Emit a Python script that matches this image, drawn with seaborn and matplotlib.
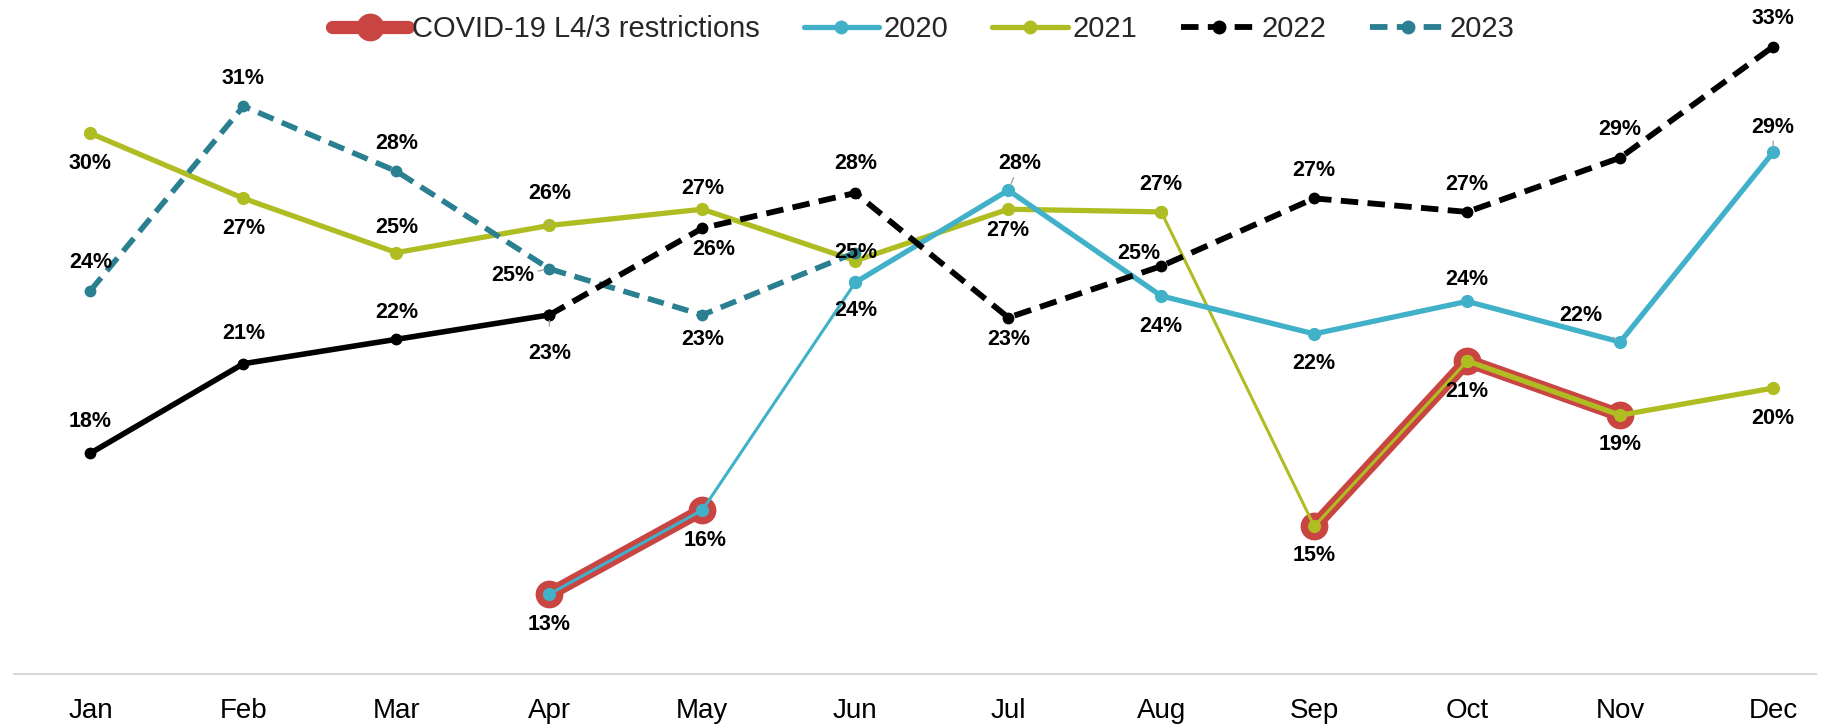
import numpy as np
import pandas as pd
import matplotlib
matplotlib.use("Agg")
import matplotlib.pyplot as plt
import seaborn as sns
from matplotlib.lines import Line2D

months = ["Jan", "Feb", "Mar", "Apr", "May", "Jun", "Jul", "Aug", "Sep", "Oct", "Nov", "Dec"]
nan = np.nan
s2020 = [nan, nan, nan, 12.8, 15.9, 24.3, 27.7, 23.8, 22.4, 23.6, 22.1, 29.1]
s2021 = [29.8, 27.4, 25.4, 26.4, 27.0, 25.1, 27.0, 26.9, 15.3, 21.4, 19.4, 20.4]
s2022 = [18.0, 21.3, 22.2, 23.1, 26.3, 27.6, 23.0, 24.9, 27.4, 26.9, 28.9, 33.0]
s2023 = [24.0, 30.8, 28.4, 24.8, 23.1, 25.4, nan, nan, nan, nan, nan, nan]
covid = [nan, nan, nan, 12.8, 15.9, nan, nan, nan, 15.3, 21.4, 19.4, nan]
covid_segment = [0, 0, 0, 1, 1, 0, 0, 0, 2, 2, 2, 0]
labels_2020 = ["", "", "", "13%", "16%", "24%", "28%", "24%", "22%", "24%", "22%", "29%"]
labels_2021 = ["30%", "27%", "25%", "26%", "27%", "", "27%", "27%", "15%", "21%", "19%", "20%"]
labels_2022 = ["18%", "21%", "22%", "23%", "26%", "28%", "23%", "25%", "27%", "27%", "29%", "33%"]
labels_2023 = ["24%", "31%", "28%", "25%", "23%", "25%", "", "", "", "", "", ""]

# label placement (offset in points): styling, kept separate from data
pos_2020 = [None, None, None, (0, -22), (2, -22), (0, -20), (8, 19), (0, -22), (0, -21), (0, 16), (-28, 19), (0, 18)]
pos_2021 = [(0, -22), (0, -22), (0, 18), (0, 23), (0, 15), None, (0, -15), (0, 20), (0, -21), (0, -22), (0, -21), (0, -22)]
pos_2022 = [(0, 23), (0, 22), (0, 19), (0, -28), (8, -15), (0, 21), (0, -16), (-16, 9), (0, 20), (0, 20), (0, 20), (0, 20)]
pos_2023 = [(0, 20), (0, 20), (0, 20), (-26, -5), (0, -18), (0, 0.1)]
leaders = {("2020", 6), ("2020", 10), ("2020", 11), ("2021", 3), ("2021", 7), ("2022", 3), ("2023", 3)}

c_covid = "#C94542"
c_2020 = "#41B0C9"
c_2021 = "#AFBD22"
c_2022 = "#000000"
c_2023 = "#2A8090"

sns.set_theme(style="white")
plt.rcParams["font.family"] = ["Liberation Sans", "DejaVu Sans"]

x = np.arange(len(months))
df = pd.DataFrame({"x": x, "covid": covid, "seg": covid_segment,
                   "y2020": s2020, "y2021": s2021, "y2022": s2022, "y2023": s2023})

fig = plt.figure(figsize=(18.32, 7.24), dpi=100)
ax = fig.add_axes([14 / 1832, 50 / 724, (1816 - 14) / 1832, 674 / 724])

dash = (0, (3, 1.6))
THICK = 3.8
THIN = 2.2


def piece(col, lo, hi, color, lw, ms, z, ls="-"):
    d = df[(df["x"] >= lo) & (df["x"] <= hi)].dropna(subset=[col])
    sns.lineplot(data=d, x="x", y=col, ax=ax, color=color, linewidth=lw,
                 marker="o", markersize=ms, markeredgewidth=0, zorder=z,
                 linestyle=ls, legend=False)


# COVID highlight (segments)
dcv = df[df["seg"] > 0]
sns.lineplot(data=dcv, x="x", y="covid", units="seg", estimator=None, ax=ax,
             color=c_covid, linewidth=9.5, marker="o", markersize=20, markeredgewidth=0,
             zorder=2, legend=False)
# 2020
piece("y2020", 3, 5, c_2020, THIN, 9.5, 4)
piece("y2020", 5, 11, c_2020, THICK, 9.5, 4)
# 2021
piece("y2021", 0, 7, c_2021, THICK, 9.5, 3)
piece("y2021", 7, 9, c_2021, THIN, 9.5, 3)
piece("y2021", 9, 11, c_2021, THICK, 9.5, 3)
# 2022
piece("y2022", 0, 3, c_2022, 4.0, 8.5, 5)
piece("y2022", 3, 11, c_2022, 4.2, 8.5, 5, dash)
# 2023
piece("y2023", 0, 5, c_2023, 4.0, 8.5, 4, dash)


def put_labels(name, vals, labs, poss):
    for i, (v, lab) in enumerate(zip(vals, labs)):
        if i >= len(poss) or poss[i] is None or not lab or np.isnan(v):
            continue
        dx, dy = poss[i]
        kw = {}
        if (name, i) in leaders:
            kw["arrowprops"] = dict(arrowstyle="-", color="#A6A6A6", lw=1.0,
                                    shrinkA=10, shrinkB=4)
        ax.annotate(lab, (i, v), xytext=(dx, dy), textcoords="offset points",
                    ha="center", va="center", fontsize=15.5, fontweight="bold",
                    color="#000000", zorder=10, **kw)


put_labels("2020", s2020, labels_2020, pos_2020)
put_labels("2021", s2021, labels_2021, pos_2021)
put_labels("2022", s2022, labels_2022, pos_2022)
put_labels("2023", s2023, labels_2023, pos_2023)

ax.set_xlim(-0.5, 11.28)
ax.set_ylim(9.85, 34.72)
ax.set_xticks(x)
ax.set_xticklabels(months, fontsize=20, color="#000000")
ax.set_yticks([])
ax.set_xlabel("")
ax.set_ylabel("")
ax.tick_params(axis="x", length=0, pad=17)
for s in ["top", "left", "right"]:
    ax.spines[s].set_visible(False)
ax.spines["bottom"].set_color("#D9D9D9")
ax.spines["bottom"].set_linewidth(1.5)

handles = [
    Line2D([], [], color=c_covid, lw=9.5, marker="o", markersize=20, markeredgewidth=0,
           solid_capstyle="round"),
    Line2D([], [], color=c_2020, lw=THICK, marker="o", markersize=10, markeredgewidth=0,
           solid_capstyle="round"),
    Line2D([], [], color=c_2021, lw=THICK, marker="o", markersize=10, markeredgewidth=0,
           solid_capstyle="round"),
    Line2D([], [], color=c_2022, lw=4.2, marker="o", markersize=10, markeredgewidth=0, linestyle=dash),
    Line2D([], [], color=c_2023, lw=4.2, marker="o", markersize=10, markeredgewidth=0, linestyle=dash),
]
fig.legend(handles, ["COVID-19 L4/3 restrictions", "2020", "2021", "2022", "2023"],
           loc="center", bbox_to_anchor=(0.504, 1 - 29 / 724), ncol=5, frameon=False,
           fontsize=21, handlelength=2.6, handletextpad=0.15, columnspacing=1.5)

fig.savefig("out.png", dpi=100)
